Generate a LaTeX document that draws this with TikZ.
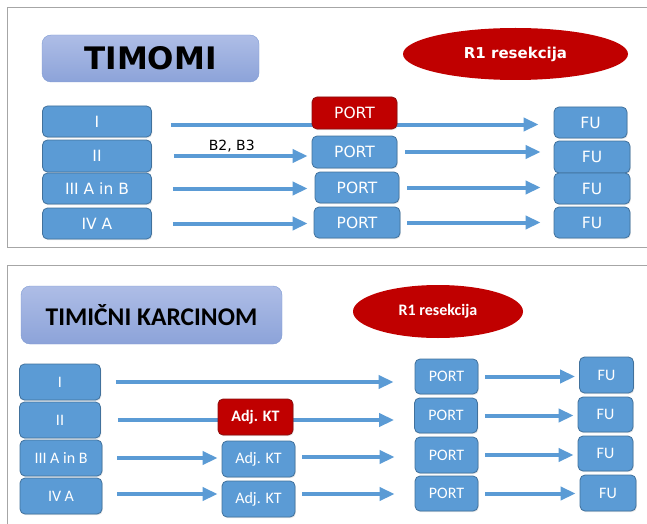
\documentclass[tikz,border=0pt]{standalone}
\usepackage{fontspec}
\setmainfont{Carlito}
\newfontfamily\verdfont{DejaVu Sans}
\usetikzlibrary{arrows.meta,shapes.geometric,shadows}
\definecolor{boxblue}{HTML}{5B9BD5}
\definecolor{boxedge}{HTML}{41719C}
\definecolor{boxred}{HTML}{C00000}
\definecolor{rededge}{HTML}{8A0F0F}
\definecolor{titletop}{HTML}{AEBDE6}
\definecolor{titlebot}{HTML}{8CA3D9}
\definecolor{titleedge}{HTML}{7E9AD2}
\definecolor{framegray}{HTML}{A6A6A6}

\begin{document}
\begin{tikzpicture}[x=1pt, y=-1pt,
  box/.style={draw=boxedge, fill=boxblue, line width=0.8pt, rounded corners=5pt,
              text=white, inner sep=0pt, align=center,
              drop shadow={opacity=0.2, shadow xshift=0.8pt, shadow yshift=-1.2pt}},
  redbox/.style={box, draw=rededge, fill=boxred},
  ttlbox/.style={draw=titleedge, top color=titletop, bottom color=titlebot,
                 rounded corners=9pt, inner sep=0pt},
  oval/.style={ellipse, fill=boxred, text=white, inner sep=0pt},
  arr/.style={-{Triangle[length=15pt, width=13pt]}, draw=boxblue, line width=4pt},
  panel/.style={draw=framegray, line width=1pt},
  tfont/.style={font=\verdfont\fontsize{15.5}{17}\selectfont},
  bfont/.style={font=\fontsize{16}{18}\selectfont}]
  \useasboundingbox (0,0) rectangle (647,524);

  % timomi
  \draw[panel] (647,8) -- (7,8) -- (7,247) -- (647,247);
  \node[ttlbox, minimum width=217pt, minimum height=47pt] (ttl1) at (150.5,58.5)
       {\verdfont\bfseries\fontsize{31}{31}\selectfont TIMOMI};
  \node[oval, minimum width=225pt, minimum height=52pt] (r1a) at (515.5,54)
       {\verdfont\bfseries\fontsize{15}{17}\selectfont R1 resekcija};

  \node[box, tfont, minimum width=109pt, minimum height=31pt] (t1) at (97,121.5) {I};
  \node[box, tfont, minimum width=109pt, minimum height=32pt] (t2) at (97,156) {II};
  \node[box, tfont, minimum width=109pt, minimum height=31pt] (t3) at (97,188.5) {III A in B};
  \node[box, tfont, minimum width=109pt, minimum height=31pt] (t4) at (97,223.5) {IV A};

  \node[box, tfont, minimum width=73pt, minimum height=31pt] (f1) at (590.5,122.5) {FU};
  \node[box, tfont, minimum width=76pt, minimum height=32pt] (f2) at (592,157) {FU};
  \node[box, tfont, minimum width=76pt, minimum height=31pt] (f3) at (592,188.5) {FU};
  \node[box, tfont, minimum width=76pt, minimum height=31pt] (f4) at (592,222.5) {FU};

  \draw[arr, shorten <=19pt, shorten >=15pt] ([yshift=-3pt]t1.east) -- ([yshift=-3pt]t1.east -| f1.west);
  \node[redbox, tfont, minimum width=85pt, minimum height=32pt] (p1) at (354.5,113) {PORT};
  \node[box, tfont, minimum width=85pt, minimum height=32pt] (p2) at (354.5,152) {PORT};
  \node[box, tfont, minimum width=84pt, minimum height=31pt] (p3) at (357,187.5) {PORT};
  \node[box, tfont, minimum width=86pt, minimum height=31pt] (p4) at (357,222.5) {PORT};

  \draw[arr, shorten <=22pt, shorten >=4pt] (t2) -- (t2 -| p2.west)
        node[midway, above, inner sep=1.5pt, text=black, font=\verdfont\fontsize{14}{16}\selectfont] {B2, B3};
  \draw[arr, shorten <=8pt, shorten >=13pt] (p2) -- (p2 -| f2.west);
  \draw[arr, shorten <=21pt, shorten >=7pt] (t3) -- (t3 -| p3.west);
  \draw[arr, shorten <=8pt, shorten >=13pt] (p3) -- (p3 -| f3.west);
  \draw[arr, shorten <=21pt, shorten >=6pt] (t4) -- (t4 -| p4.west);
  \draw[arr, shorten <=7pt, shorten >=13pt] (p4) -- (p4 -| f4.west);

  % timicni karcinom
  \draw[panel] (647,265) -- (7,265) -- (7,524);
  \node[ttlbox, minimum width=261pt, minimum height=58pt] (ttl2) at (151.5,315)
       {\bfseries\fontsize{25.5}{26}\selectfont TIMIČNI KARCINOM};
  \node[oval, minimum width=170pt, minimum height=53pt] (r1b) at (438,311.5)
       {\bfseries\fontsize{16}{18}\selectfont R1 resekcija};

  \node[box, bfont, minimum width=81pt, minimum height=36pt] (b1) at (60,382) {I};
  \node[box, bfont, minimum width=81pt, minimum height=36pt] (b2) at (60,420) {II};
  \node[box, bfont, minimum width=82pt, minimum height=36pt] (b3) at (61,458) {III A in B};
  \node[box, bfont, minimum width=82pt, minimum height=36pt] (b4) at (61,496) {IV A};

  \node[box, bfont, minimum width=63pt, minimum height=35pt] (q1) at (446.5,376.5) {PORT};
  \node[box, bfont, minimum width=63pt, minimum height=35pt] (q2) at (446,415.5) {PORT};
  \node[box, bfont, minimum width=63pt, minimum height=36pt] (q3) at (446.5,455) {PORT};
  \node[box, bfont, minimum width=63pt, minimum height=35pt] (q4) at (446.5,493.5) {PORT};

  \node[box, bfont, minimum width=54pt, minimum height=36pt] (g1) at (606.5,375) {FU};
  \node[box, bfont, minimum width=55pt, minimum height=35pt] (g2) at (605.5,414.5) {FU};
  \node[box, bfont, minimum width=55pt, minimum height=35pt] (g3) at (605.5,453.5) {FU};
  \node[box, bfont, minimum width=56pt, minimum height=36pt] (g4) at (608,493) {FU};

  \draw[arr, shorten <=15pt, shorten >=21pt] (b1) -- (b1 -| q1.west);
  \draw[arr, shorten <=17pt, shorten >=20pt] (b2) -- (b2 -| q2.west);
  \node[redbox, font=\bfseries\fontsize{16}{18}\selectfont, minimum width=75pt, minimum height=36pt] (k2) at (255.5,417) {Adj. KT};
  \node[box, bfont, minimum width=73pt, minimum height=36pt] (k3) at (258.5,459) {Adj. KT};
  \node[box, bfont, minimum width=73pt, minimum height=36pt] (k4) at (258.5,499) {Adj. KT};

  \draw[arr, shorten <=15pt, shorten >=4pt] (b3) -- (b3 -| k3.west);
  \draw[arr, shorten <=7pt, shorten >=20pt] ([yshift=2pt]k3.east) -- ([yshift=2pt]k3.east -| q3.west);
  \draw[arr, shorten <=15pt, shorten >=4pt] ([yshift=2pt]b4.east) -- ([yshift=2pt]b4.east -| k4.west);
  \draw[arr, shorten <=7pt, shorten >=20pt] ([yshift=5pt]k4.east) -- ([yshift=5pt]k4.east -| q4.west);

  \draw[arr, shorten <=7pt, shorten >=4pt] (q1) -- (q1 -| g1.west);
  \draw[arr, shorten <=7pt, shorten >=4pt] (q2) -- (q2 -| g2.west);
  \draw[arr, shorten <=7pt, shorten >=4pt] (q3) -- (q3 -| g3.west);
  \draw[arr, shorten <=7pt, shorten >=4pt] (q4) -- (q4 -| g4.west);
\end{tikzpicture}
\end{document}
